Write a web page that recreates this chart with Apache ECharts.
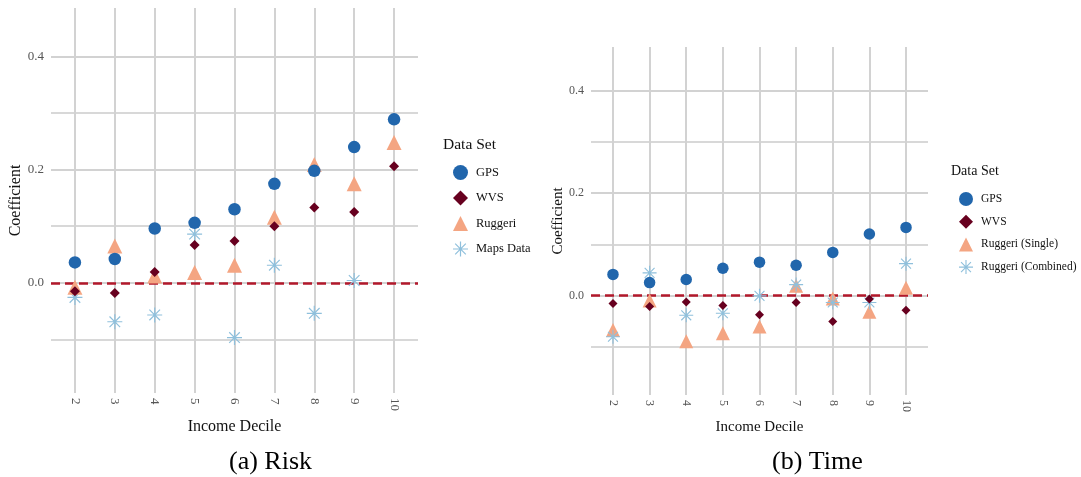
<!DOCTYPE html>
<html>
<head>
<meta charset="utf-8">
<script src="https://cdn.jsdelivr.net/npm/echarts@6/dist/echarts.min.js"></script>
<style>html,body{margin:0;padding:0;background:#fff;}#c{width:1081px;height:477px;}</style>
</head>
<body>
<div id="c"></div>
<script>
// ---- data ----
const deciles = [2, 3, 4, 5, 6, 7, 8, 9, 10];
const yTickLabels = [0, 0.2, 0.4];
const yMinorTicks = [-0.1, 0.1, 0.3];

const riskGPS     = [0.036, 0.042, 0.096, 0.106, 0.130, 0.175, 0.198, 0.240, 0.289];
const riskWVS     = [-0.015, -0.018, 0.019, 0.067, 0.074, 0.100, 0.133, 0.125, 0.206];
const riskRuggeri = [-0.008, 0.065, 0.012, 0.018, 0.031, 0.116, 0.209, 0.175, 0.248];
const riskMaps    = [-0.026, -0.069, -0.057, 0.086, -0.097, 0.031, -0.054, 0.004, null];

const timeGPS       = [0.041, 0.025, 0.031, 0.053, 0.065, 0.059, 0.084, 0.120, 0.133];
const timeWVS       = [-0.016, -0.022, -0.013, -0.020, -0.038, -0.014, -0.051, -0.007, -0.029];
const timeRugSingle = [-0.068, -0.010, -0.090, -0.074, -0.061, 0.019, -0.006, -0.032, 0.015];
const timeRugComb   = [-0.081, 0.044, -0.039, -0.035, -0.001, 0.021, -0.014, -0.014, 0.062];

const riskNames = ['GPS', 'WVS', 'Ruggeri', 'Maps Data'];
const timeNames = ['GPS', 'WVS', 'Ruggeri (Single)', 'Ruggeri (Combined)'];

// ---- styles ----
const FONT = '"Liberation Serif", "DejaVu Serif", serif';
const C_GPS = '#2166ac', C_WVS = '#67001f', C_RUG = '#f4a582', C_AST = '#8fc0dc';
const ASTERISK = 'path://M0,9.2L20,9.2L20,10.8L0,10.8Z M9.2,0L10.8,0L10.8,20L9.2,20Z M2.36,3.49L3.49,2.36L17.64,16.51L16.51,17.64Z M16.51,2.36L17.64,3.49L3.49,17.64L2.36,16.51Z';

function pts(arr) { return deciles.map((d, i) => [d, arr[i]]).filter(p => p[1] !== null); }

function gridLines(gi) {
  const data = [];
  yMinorTicks.forEach(v => data.push({ yAxis: v, lineStyle: { color: '#d8d8d8', width: 1.8, type: 'solid' } }));
  yTickLabels.forEach(v => data.push({ yAxis: v, lineStyle: { color: '#d2d2d2', width: 2.2, type: 'solid' } }));
  deciles.forEach(v => data.push({ xAxis: v, lineStyle: { color: '#d2d2d2', width: 2, type: 'solid' } }));
  return {
    type: 'line', xAxisIndex: gi, yAxisIndex: gi, data: [], silent: true, z: 0,
    markLine: { silent: true, symbol: ['none', 'none'], label: { show: false }, animation: false, data: data, z: 0 }
  };
}
function zeroLine(gi) {
  return {
    type: 'line', xAxisIndex: gi, yAxisIndex: gi, data: [], silent: true, z: 1,
    markLine: { silent: true, symbol: ['none', 'none'], label: { show: false }, animation: false,
      data: [{ yAxis: 0, lineStyle: { color: '#b2182b', width: 2.5, type: [9, 5] } }], z: 1 }
  };
}
function scatter(gi, name, arr, symbol, size, color, z) {
  return { type: 'scatter', name: name, xAxisIndex: gi, yAxisIndex: gi, data: pts(arr),
    symbol: symbol, symbolSize: size, itemStyle: { color: color, opacity: 1 }, z: z, animation: false };
}

function xAxis(gi, fs, nameFs, nameGap) {
  return {
    type: 'value', gridIndex: gi, min: 1.4, max: 10.6,
    name: 'Income Decile', nameLocation: 'middle', nameGap: nameGap,
    nameTextStyle: { fontFamily: FONT, fontSize: nameFs, color: '#111' },
    axisLine: { show: false }, axisTick: { show: false }, splitLine: { show: false },
    axisLabel: { customValues: deciles, rotate: -90, margin: 5, fontFamily: FONT, fontSize: fs, color: '#555' }
  };
}
function yAxis(gi, fs, nameFs, nameGap) {
  return {
    type: 'value', gridIndex: gi, min: -0.195, max: 0.486,
    name: 'Coefficient', nameLocation: 'middle', nameGap: nameGap,
    nameTextStyle: { fontFamily: FONT, fontSize: nameFs, color: '#111' },
    axisLine: { show: false }, axisTick: { show: false }, splitLine: { show: false },
    axisLabel: { customValues: yTickLabels, margin: 7, fontFamily: FONT, fontSize: fs, color: '#555',
      formatter: v => v.toFixed(1) }
  };
}

const chart = echarts.init(document.getElementById('c'), null, { renderer: 'canvas' });
chart.setOption({
  animation: false,
  backgroundColor: '#fff',
  grid: [
    { left: 51, top: 8, width: 367, height: 385 },
    { left: 591, top: 47, width: 337, height: 348 }
  ],
  xAxis: [xAxis(0, 13, 16, 15), xAxis(1, 12, 15, 16)],
  yAxis: [yAxis(0, 13, 16, 25), yAxis(1, 12, 15, 21)],
  legend: [
    { data: riskNames, orient: 'vertical', left: 448, top: 160, itemWidth: 15, itemHeight: 15, itemGap: 10.5,
      textStyle: { fontFamily: FONT, fontSize: 12.5, color: '#111', padding: [0, 0, 0, 3] } },
    { data: timeNames.map(n => 'T:' + n), orient: 'vertical', left: 954, top: 187, itemWidth: 14, itemHeight: 14, itemGap: 8.7,
      formatter: n => n.slice(2),
      textStyle: { fontFamily: FONT, fontSize: 11.5, color: '#111', padding: [0, 0, 0, 3] } }
  ],
  graphic: [
    { type: 'text', left: 443, top: 137, style: { text: 'Data Set', font: '15.5px ' + FONT, fill: '#111' } },
    { type: 'text', left: 951, top: 164, style: { text: 'Data Set', font: '14px ' + FONT, fill: '#111' } },
    { type: 'text', left: 229, top: 449, style: { text: '(a) Risk', font: '26px ' + FONT, fill: '#000' } },
    { type: 'text', left: 772, top: 449, style: { text: '(b) Time', font: '26px ' + FONT, fill: '#000' } }
  ],
  series: [
    gridLines(0), zeroLine(0),
    scatter(0, 'Maps Data', riskMaps, ASTERISK, 15, C_AST, 3),
    scatter(0, 'Ruggeri', riskRuggeri, 'triangle', 15, C_RUG, 4),
    scatter(0, 'WVS', riskWVS, 'diamond', 10, C_WVS, 5),
    scatter(0, 'GPS', riskGPS, 'circle', 12.5, C_GPS, 6),
    gridLines(1), zeroLine(1),
    scatter(1, 'T:Ruggeri (Single)', timeRugSingle, 'triangle', 14, C_RUG, 3),
    scatter(1, 'T:Ruggeri (Combined)', timeRugComb, ASTERISK, 14, C_AST, 4),
    scatter(1, 'T:WVS', timeWVS, 'diamond', 9, C_WVS, 5),
    scatter(1, 'T:GPS', timeGPS, 'circle', 11.5, C_GPS, 6)
  ]
});
</script>
</body>
</html>
